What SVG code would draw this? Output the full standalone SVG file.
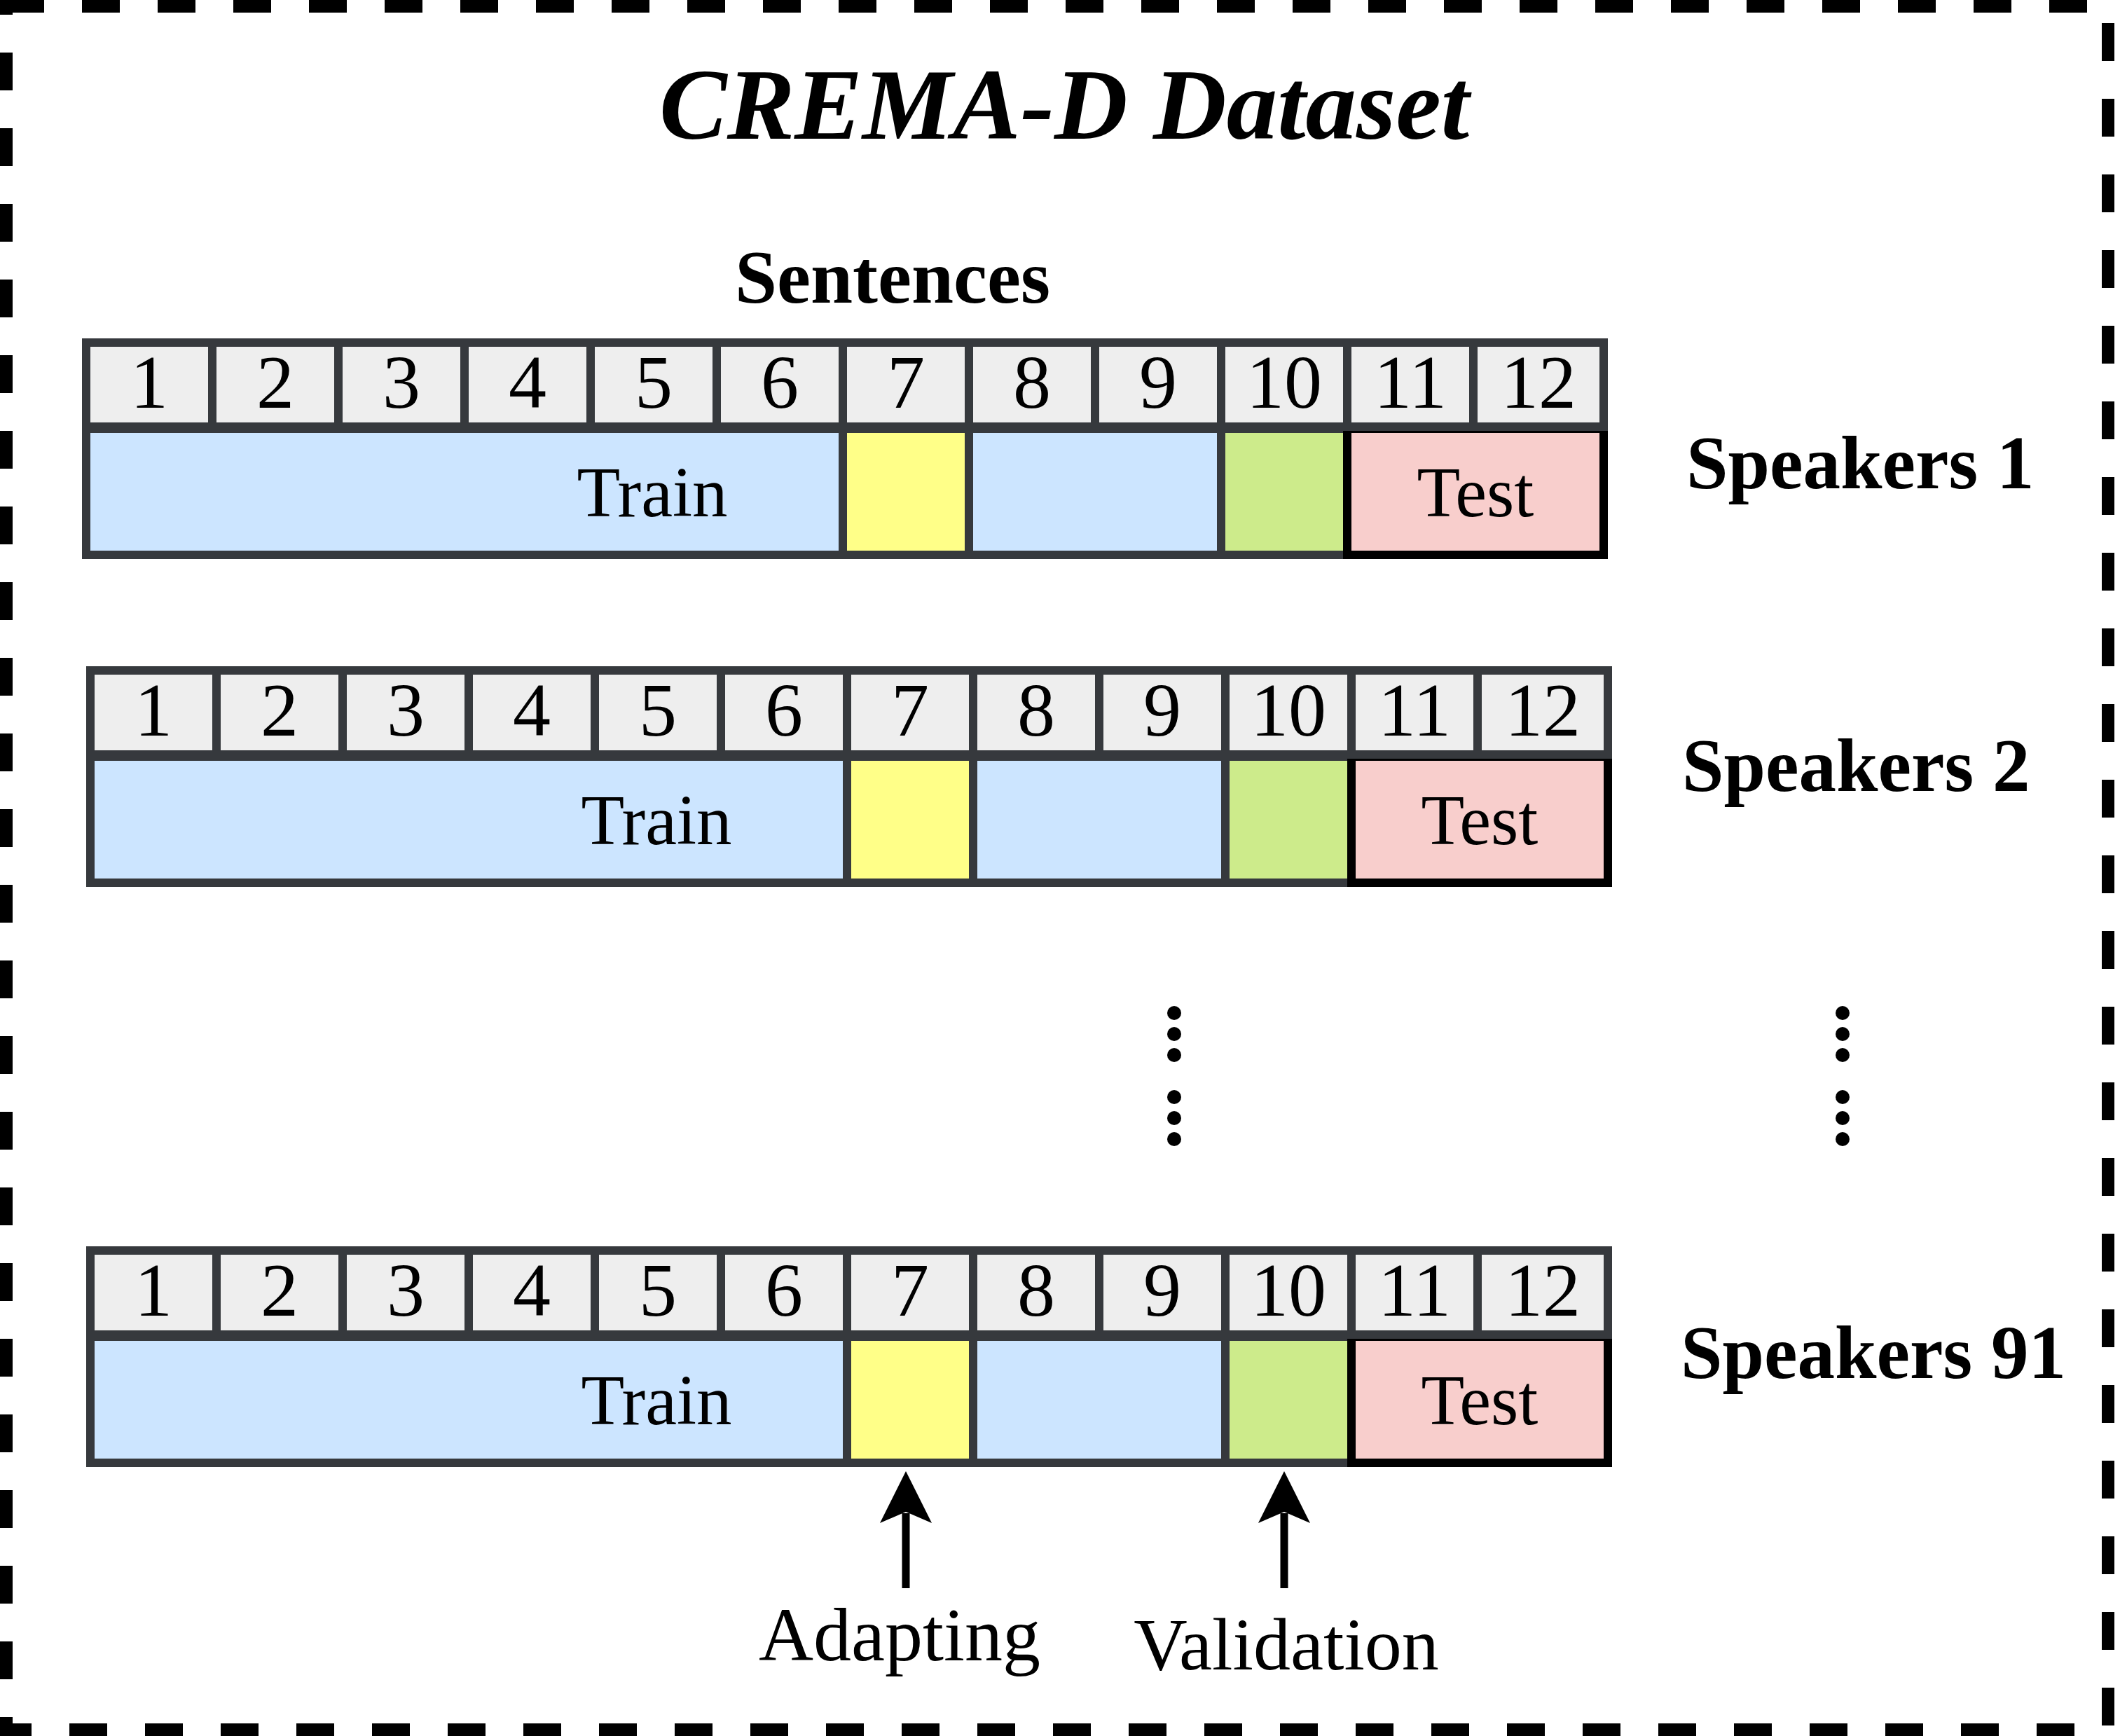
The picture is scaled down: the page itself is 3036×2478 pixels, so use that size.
<svg xmlns="http://www.w3.org/2000/svg" width="3036" height="2478" viewBox="0 0 3036 2478">
<style>
.frame{fill:#36393d}
.hd{fill:#eeeeee}
.tr{fill:#cce5ff}
.ad{fill:#ffff88}
.va{fill:#cdeb8b}
.te{fill:#f8cecc}
.tb{fill:#000000}
.num{font-family:"Liberation Serif","Times New Roman",serif;font-size:108px;text-anchor:middle;fill:#000}
.lab{font-family:"Liberation Serif","Times New Roman",serif;font-size:101px;text-anchor:middle;fill:#000}
.spk{font-family:"Liberation Serif","Times New Roman",serif;font-size:107px;font-weight:bold;fill:#000}
.dot{fill:#000}
.arrow{stroke:#000;stroke-width:11;fill:none}
.head{fill:#000}
</style>
<rect x="0" y="0" width="3036" height="2478" fill="#ffffff"/>
<rect id="border" x="9" y="9" width="3000" height="2460" fill="none" stroke="#000" stroke-width="18" stroke-dasharray="54 54"/>
<g id="title"><text x="1519" y="198" font-family="'Liberation Serif','Times New Roman',serif" font-size="145" font-weight="bold" font-style="italic" text-anchor="middle">CREMA-D Dataset</text></g>
<g id="sentences"><text x="1274" y="432" font-family="'Liberation Serif','Times New Roman',serif" font-size="108" font-weight="bold" text-anchor="middle">Sentences</text></g>

<g id="row1" transform="translate(117,483)">
<rect class="frame" x="0" y="0" width="2178" height="315"/>
<rect class="hd" x="12" y="12" width="168" height="108"/>
<rect class="hd" x="192" y="12" width="168" height="108"/>
<rect class="hd" x="372" y="12" width="168" height="108"/>
<rect class="hd" x="552" y="12" width="168" height="108"/>
<rect class="hd" x="732" y="12" width="168" height="108"/>
<rect class="hd" x="912" y="12" width="168" height="108"/>
<rect class="hd" x="1092" y="12" width="168" height="108"/>
<rect class="hd" x="1272" y="12" width="168" height="108"/>
<rect class="hd" x="1452" y="12" width="168" height="108"/>
<rect class="hd" x="1632" y="12" width="168" height="108"/>
<rect class="hd" x="1812" y="12" width="168" height="108"/>
<rect class="hd" x="1992" y="12" width="174" height="108"/>
<text class="num" x="96" y="99">1</text>
<text class="num" x="276" y="99">2</text>
<text class="num" x="456" y="99">3</text>
<text class="num" x="636" y="99">4</text>
<text class="num" x="816" y="99">5</text>
<text class="num" x="996" y="99">6</text>
<text class="num" x="1176" y="99">7</text>
<text class="num" x="1356" y="99">8</text>
<text class="num" x="1536" y="99">9</text>
<text class="num" x="1716" y="99">10</text>
<text class="num" x="1896" y="99">11</text>
<text class="num" x="2079" y="99">12</text>
<rect class="tr" x="12" y="135" width="1068" height="168"/>
<rect class="ad" x="1092" y="135" width="168" height="168"/>
<rect class="tr" x="1272" y="135" width="348" height="168"/>
<rect class="va" x="1632" y="135" width="168" height="168"/>
<rect class="tb" x="1800" y="132" width="378" height="183"/>
<rect class="te" x="1812" y="135" width="354" height="168"/>
<text class="lab" x="814" y="254">Train</text>
<text class="lab" x="1989" y="254">Test</text>
</g>
<g id="speakers1"><text class="spk" x="2407" y="697">Speakers 1</text></g>

<g id="row2" transform="translate(123,951)">
<rect class="frame" x="0" y="0" width="2178" height="315"/>
<rect class="hd" x="12" y="12" width="168" height="108"/>
<rect class="hd" x="192" y="12" width="168" height="108"/>
<rect class="hd" x="372" y="12" width="168" height="108"/>
<rect class="hd" x="552" y="12" width="168" height="108"/>
<rect class="hd" x="732" y="12" width="168" height="108"/>
<rect class="hd" x="912" y="12" width="168" height="108"/>
<rect class="hd" x="1092" y="12" width="168" height="108"/>
<rect class="hd" x="1272" y="12" width="168" height="108"/>
<rect class="hd" x="1452" y="12" width="168" height="108"/>
<rect class="hd" x="1632" y="12" width="168" height="108"/>
<rect class="hd" x="1812" y="12" width="168" height="108"/>
<rect class="hd" x="1992" y="12" width="174" height="108"/>
<text class="num" x="96" y="99">1</text>
<text class="num" x="276" y="99">2</text>
<text class="num" x="456" y="99">3</text>
<text class="num" x="636" y="99">4</text>
<text class="num" x="816" y="99">5</text>
<text class="num" x="996" y="99">6</text>
<text class="num" x="1176" y="99">7</text>
<text class="num" x="1356" y="99">8</text>
<text class="num" x="1536" y="99">9</text>
<text class="num" x="1716" y="99">10</text>
<text class="num" x="1896" y="99">11</text>
<text class="num" x="2079" y="99">12</text>
<rect class="tr" x="12" y="135" width="1068" height="168"/>
<rect class="ad" x="1092" y="135" width="168" height="168"/>
<rect class="tr" x="1272" y="135" width="348" height="168"/>
<rect class="va" x="1632" y="135" width="168" height="168"/>
<rect class="tb" x="1800" y="132" width="378" height="183"/>
<rect class="te" x="1812" y="135" width="354" height="168"/>
<text class="lab" x="814" y="254">Train</text>
<text class="lab" x="1989" y="254">Test</text>
</g>
<g id="speakers2"><text class="spk" x="2401" y="1129">Speakers 2</text></g>

<g id="ellipsis">
<circle class="dot" cx="1676" cy="1446" r="10"/>
<circle class="dot" cx="1676" cy="1476" r="10"/>
<circle class="dot" cx="1676" cy="1506" r="10"/>
<circle class="dot" cx="1676" cy="1566" r="10"/>
<circle class="dot" cx="1676" cy="1596" r="10"/>
<circle class="dot" cx="1676" cy="1626" r="10"/>
<circle class="dot" cx="2630" cy="1446" r="10"/>
<circle class="dot" cx="2630" cy="1476" r="10"/>
<circle class="dot" cx="2630" cy="1506" r="10"/>
<circle class="dot" cx="2630" cy="1566" r="10"/>
<circle class="dot" cx="2630" cy="1596" r="10"/>
<circle class="dot" cx="2630" cy="1626" r="10"/>
</g>

<g id="row3" transform="translate(123,1779)">
<rect class="frame" x="0" y="0" width="2178" height="315"/>
<rect class="hd" x="12" y="12" width="168" height="108"/>
<rect class="hd" x="192" y="12" width="168" height="108"/>
<rect class="hd" x="372" y="12" width="168" height="108"/>
<rect class="hd" x="552" y="12" width="168" height="108"/>
<rect class="hd" x="732" y="12" width="168" height="108"/>
<rect class="hd" x="912" y="12" width="168" height="108"/>
<rect class="hd" x="1092" y="12" width="168" height="108"/>
<rect class="hd" x="1272" y="12" width="168" height="108"/>
<rect class="hd" x="1452" y="12" width="168" height="108"/>
<rect class="hd" x="1632" y="12" width="168" height="108"/>
<rect class="hd" x="1812" y="12" width="168" height="108"/>
<rect class="hd" x="1992" y="12" width="174" height="108"/>
<text class="num" x="96" y="99">1</text>
<text class="num" x="276" y="99">2</text>
<text class="num" x="456" y="99">3</text>
<text class="num" x="636" y="99">4</text>
<text class="num" x="816" y="99">5</text>
<text class="num" x="996" y="99">6</text>
<text class="num" x="1176" y="99">7</text>
<text class="num" x="1356" y="99">8</text>
<text class="num" x="1536" y="99">9</text>
<text class="num" x="1716" y="99">10</text>
<text class="num" x="1896" y="99">11</text>
<text class="num" x="2079" y="99">12</text>
<rect class="tr" x="12" y="135" width="1068" height="168"/>
<rect class="ad" x="1092" y="135" width="168" height="168"/>
<rect class="tr" x="1272" y="135" width="348" height="168"/>
<rect class="va" x="1632" y="135" width="168" height="168"/>
<rect class="tb" x="1800" y="132" width="378" height="183"/>
<rect class="te" x="1812" y="135" width="354" height="168"/>
<text class="lab" x="814" y="254">Train</text>
<text class="lab" x="1989" y="254">Test</text>
</g>
<g id="speakers91"><text class="spk" x="2399" y="1967">Speakers 91</text></g>

<g id="connectors">
<line class="arrow" x1="1293" y1="2267" x2="1293" y2="2160"/>
<polygon class="head" points="1293,2100 1330,2174 1293,2158 1256,2174"/>
<line class="arrow" x1="1833" y1="2267" x2="1833" y2="2160"/>
<polygon class="head" points="1833,2100 1870,2174 1833,2158 1796,2174"/>
</g>
<g id="adapting"><text x="1284" y="2370" font-family="'Liberation Serif','Times New Roman',serif" font-size="108" text-anchor="middle">Adapting</text></g>
<g id="validation"><text x="1836" y="2383" font-family="'Liberation Serif','Times New Roman',serif" font-size="106" text-anchor="middle">Validation</text></g>
</svg>
